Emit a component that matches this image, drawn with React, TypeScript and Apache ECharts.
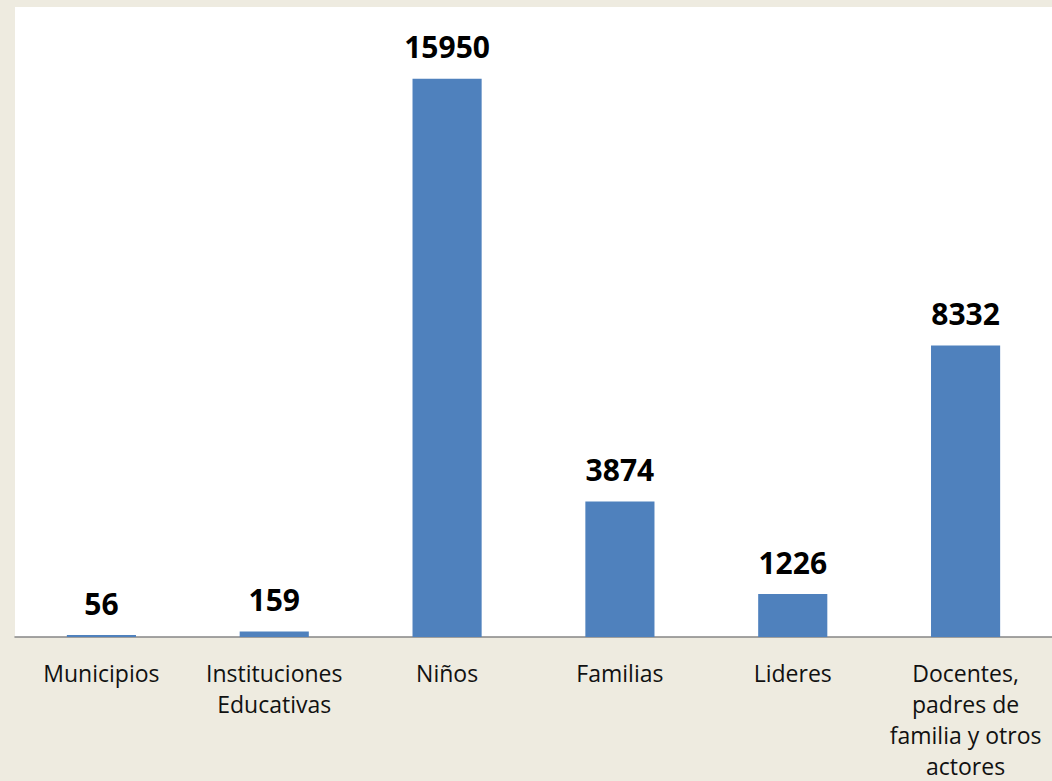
import React, { useEffect, useRef } from "react";
import * as echarts from "echarts";

const categories = [
  "Municipios",
  "Instituciones\nEducativas",
  "Niños",
  "Familias",
  "Lideres",
  "Docentes,\npadres de\nfamilia y otros\nactores",
];
const values = [56, 159, 15950, 3874, 1226, 8332];

export default function App() {
  const ref = useRef<HTMLDivElement>(null);
  useEffect(() => {
    const chart = echarts.init(ref.current!, null, { renderer: "svg" });
    chart.setOption({
      animation: false,
      backgroundColor: "#EEEBE0",
      grid: {
        left: 15,
        top: 7,
        width: 1039,
        height: 630,
        show: true,
        backgroundColor: "#FFFFFF",
        borderWidth: 0,
      },
      xAxis: {
        type: "category",
        data: categories,
        axisLine: { show: true, lineStyle: { color: "#868686", width: 1.5 } },
        axisTick: { show: false },
        axisLabel: {
          interval: 0,
          margin: 20,
          color: "#111",
          fontFamily: "'Open Sans', 'Noto Sans', sans-serif",
          fontSize: 23,
          lineHeight: 31,
        },
      },
      yAxis: {
        type: "value",
        min: 0,
        max: 18000,
        show: false,
        splitLine: { show: false },
      },
      series: [
        {
          type: "bar",
          data: values,
          barWidth: "40%",
          itemStyle: { color: "#4F81BD" },
          label: {
            show: true,
            position: "top",
            distance: 17,
            color: "#000",
            fontWeight: "bold",
            fontSize: 30,
            fontFamily: "'Open Sans', 'Noto Sans', sans-serif",
          },
        },
      ],
    });
    return () => chart.dispose();
  }, []);
  return (
    <div
      ref={ref}
      style={{ position: "absolute", left: 0, top: 0, width: 1052, height: 781 }}
    />
  );
}
